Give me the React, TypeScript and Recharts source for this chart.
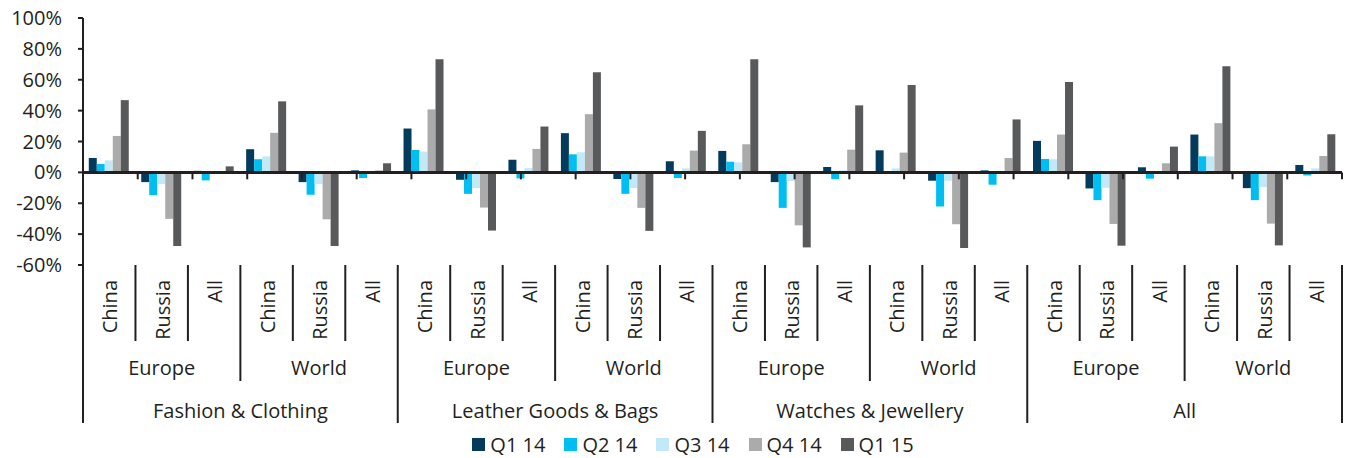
import React from 'react';
import { BarChart, Bar, XAxis, YAxis, ReferenceLine, Legend } from 'recharts';

// ---- data ----
const sectors = ['Fashion & Clothing', 'Leather Goods & Bags', 'Watches & Jewellery', 'All'];
const regions = ['Europe', 'World'];
const countries = ['China', 'Russia', 'All'];
const seriesNames = ['Q1 14', 'Q2 14', 'Q3 14', 'Q4 14', 'Q1 15'];
const yTicks = [-60, -40, -20, 0, 20, 40, 60, 80, 100];

// order: sector -> region -> country
const q1_14 = [9.3, -6.3, 1.0, 15.0, -6.3, 1.3, 28.4, -4.8, 8.2, 25.4, -4.3, 7.2, 13.9, -6.3, 3.5, 14.3, -5.4, 1.3, 20.4, -10.4, 3.3, 24.5, -10.2, 4.8];
const q2_14 = [5.4, -14.7, -5.2, 8.5, -14.5, -3.7, 14.5, -13.9, -3.9, 11.7, -13.9, -3.7, 6.9, -23.0, -4.3, 0.0, -22.1, -8.0, 8.7, -18.0, -4.1, 10.4, -18.0, -2.0];
const q3_14 = [7.8, -7.6, 0.3, 10.4, -7.6, 1.0, 13.4, -10.2, 2.8, 13.0, -10.2, 2.6, 6.5, -5.6, 1.3, 2.6, -5.4, 0.3, 8.5, -10.0, 0.5, 10.4, -9.5, 2.6];
const q4_14 = [23.6, -30.1, 0.5, 25.6, -30.4, 1.3, 40.8, -22.8, 15.2, 37.7, -23.0, 14.1, 18.2, -34.3, 14.7, 12.8, -33.6, 9.3, 24.5, -33.4, 5.9, 31.9, -33.2, 10.6];
const q1_15 = [46.8, -47.7, 3.9, 46.0, -47.7, 5.9, 73.3, -37.7, 29.7, 64.8, -37.9, 26.9, 73.3, -48.6, 43.4, 56.6, -49.0, 34.3, 58.5, -47.5, 16.7, 68.7, -47.3, 24.7];

const seriesValues = [q1_14, q2_14, q3_14, q4_14, q1_15];
const seriesKeys = ['s0', 's1', 's2', 's3', 's4'];
const colors = ['#043B5C', '#00BEF2', '#C3E9F8', '#ABABAB', '#58595B'];
const INK = '#231F20';

type Row = { [k: string]: any };
const data: Row[] = [];
sectors.forEach((s) =>
  regions.forEach((r) =>
    countries.forEach((c) => {
      const i = data.length;
      const row: Row = { key: `${s}|${r}|${c}`, sector: s, region: r, country: c };
      seriesKeys.forEach((k, j) => {
        row[k] = seriesValues[j][i];
      });
      data.push(row);
    })
  )
);

// ---- layout ----
const CHART_W = 1347;
const CHART_H = 458;
const MARGIN = { top: 18, right: 5, bottom: 0, left: 0 };
const YAXIS_W = 83;
const XAXIS_H = 166;
const BAND = (CHART_W - MARGIN.left - MARGIN.right - YAXIS_W) / data.length;
const FONT = 20;

const CategoryTick = (props: any) => {
  const { x, y, payload } = props;
  const i: number = props.index ?? payload.index;
  const row = data[i];
  if (!row) return null;
  const half = BAND / 2;
  const lineLen = (idx: number) => (idx % 6 === 0 ? 158 : idx % 3 === 0 ? 116 : 76);
  return (
    <g>
      <line x1={x - half} x2={x - half} y1={y} y2={y + lineLen(i)} stroke={INK} strokeWidth={2} />
      {i === data.length - 1 && (
        <line x1={x + half} x2={x + half} y1={y} y2={y + 158} stroke={INK} strokeWidth={2} />
      )}
      <text
        transform={`translate(${x + 1},${y + 15}) rotate(-90)`}
        textAnchor="end"
        dy="0.36em"
        fill={INK}
        fontSize={FONT}
      >
        {row.country}
      </text>
      {i % 3 === 1 && (
        <text x={x} y={y + 103} textAnchor="middle" dy="0.36em" fill={INK} fontSize={FONT}>
          {row.region}
        </text>
      )}
      {i % 6 === 3 && (
        <text x={x - half} y={y + 146} textAnchor="middle" dy="0.36em" fill={INK} fontSize={FONT}>
          {row.sector}
        </text>
      )}
    </g>
  );
};

const LegendContent = () => (
  <div
    style={{
      display: 'flex',
      justifyContent: 'center',
      alignItems: 'center',
      height: 26,
      paddingBottom: 1,
      paddingLeft: 44,
      fontSize: FONT,
      color: INK,
    }}
  >
    {seriesNames.map((n, k) => (
      <div key={n} style={{ display: 'flex', alignItems: 'center', marginRight: k < seriesNames.length - 1 ? 19 : 0 }}>
        <span style={{ width: 13, height: 13, background: colors[k], marginRight: 5, display: 'inline-block' }} />
        <span>{n}</span>
      </div>
    ))}
  </div>
);

export default function App() {
  return (
    <div
      style={{
        fontFamily: '"Open Sans", sans-serif',
        width: CHART_W,
        height: CHART_H,
        position: 'absolute',
        left: 0,
        top: 0,
      }}
    >
      <BarChart
        width={CHART_W}
        height={CHART_H}
        data={data}
        margin={MARGIN}
        barCategoryGap="11%"
        barGap={0}
      >
        <XAxis
          dataKey="key"
          height={XAXIS_H}
          interval={0}
          axisLine={false}
          tickLine={false}
          tickSize={0}
          tickMargin={0}
          tick={<CategoryTick />}
        />
        <XAxis xAxisId="grid" type="number" domain={[0, data.length]} hide allowDataOverflow />
        <YAxis
          width={YAXIS_W}
          domain={[-60, 100]}
          ticks={yTicks}
          interval={0}
          allowDataOverflow
          tickFormatter={(v: number) => `${v}%`}
          axisLine={{ stroke: INK, strokeWidth: 2 }}
          tickLine={{ stroke: INK, strokeWidth: 2 }}
          tickSize={5}
          tickMargin={16}
          tick={{ fill: INK, fontSize: FONT }}
        />
        {seriesKeys.map((k, j) => (
          <Bar key={k} dataKey={k} name={seriesNames[j]} fill={colors[j]} isAnimationActive={false} />
        ))}
        <ReferenceLine y={0} stroke={INK} strokeWidth={3} />
        {data.map((_, i) => (
          <ReferenceLine
            key={`t${i}`}
            xAxisId="grid"
            segment={[
              { x: i + 1, y: 0 },
              { x: i + 1, y: -4.5 },
            ]}
            stroke={INK}
            strokeWidth={2}
          />
        ))}
        <Legend verticalAlign="bottom" content={<LegendContent />} />
      </BarChart>
    </div>
  );
}
